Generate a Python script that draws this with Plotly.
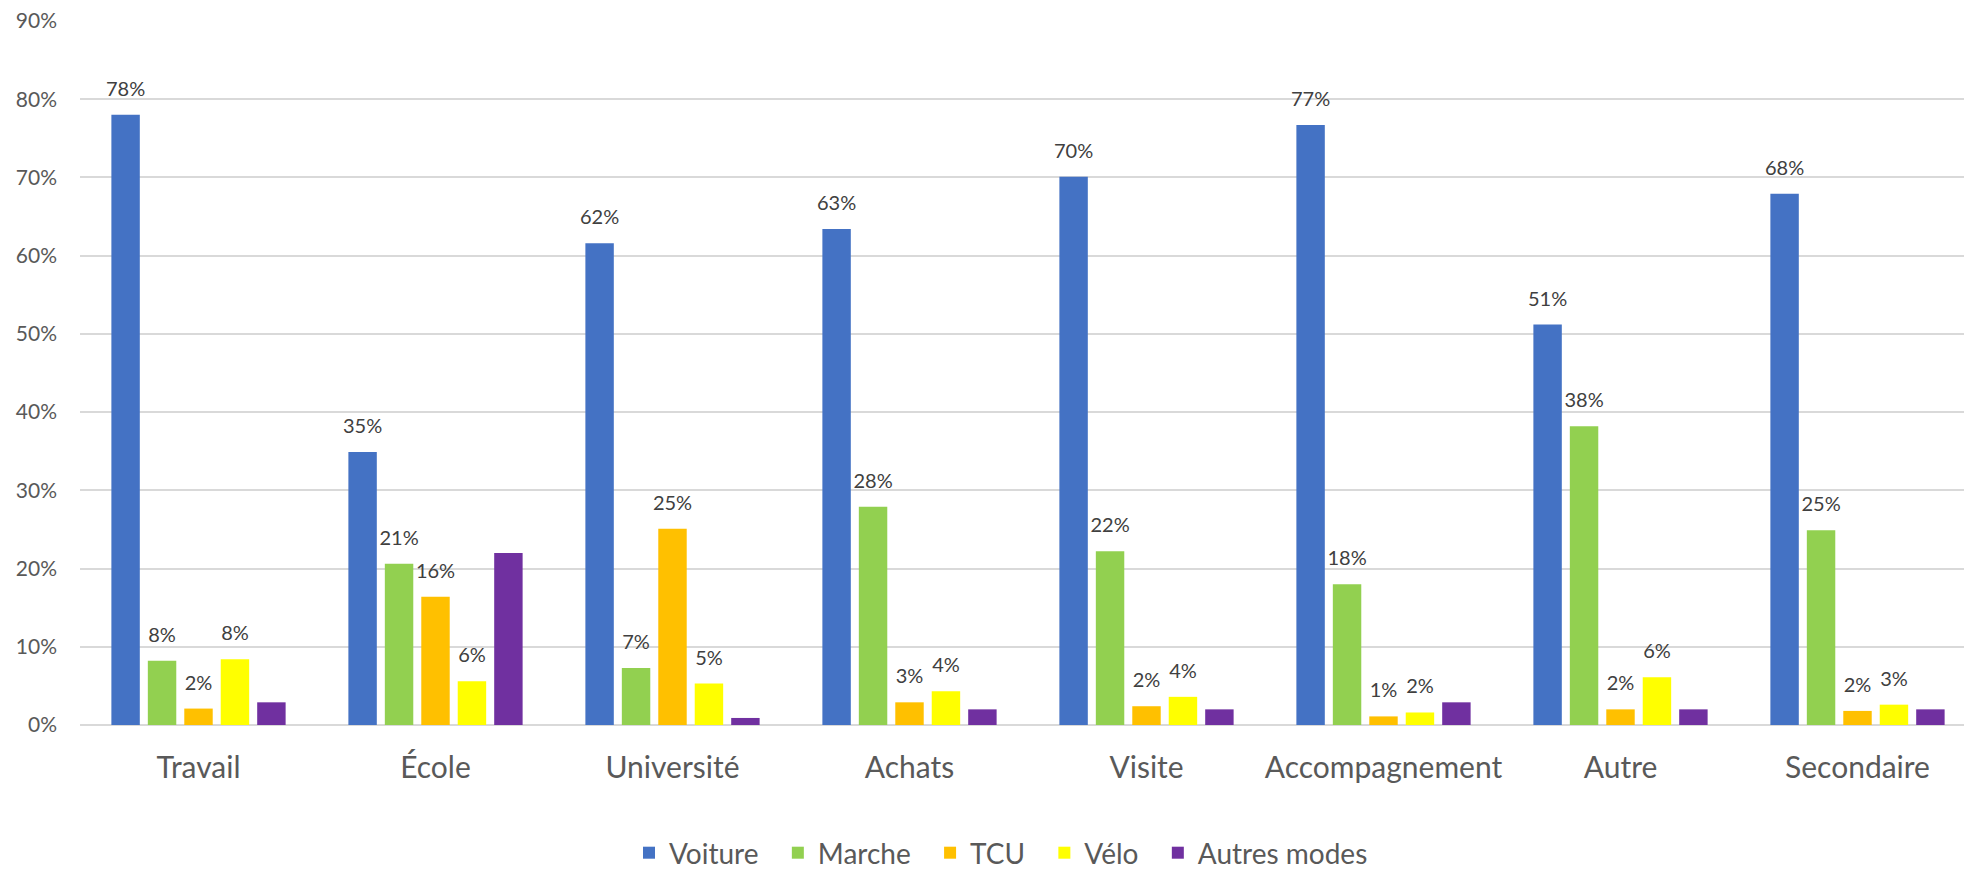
import plotly.graph_objects as go

categories = ["Travail", "École", "Université", "Achats", "Visite", "Accompagnement", "Autre", "Secondaire"]
voiture = [78.0, 34.9, 61.6, 63.4, 70.1, 76.7, 51.2, 67.9]
marche = [8.2, 20.6, 7.3, 27.9, 22.2, 18.0, 38.2, 24.9]
tcu = [2.1, 16.4, 25.1, 2.9, 2.4, 1.1, 2.0, 1.8]
velo = [8.4, 5.6, 5.3, 4.3, 3.6, 1.6, 6.1, 2.6]
autres = [2.9, 22.0, 0.9, 2.0, 2.0, 2.9, 2.0, 2.0]

series = [
    ("Voiture", voiture, "#4472C4", True),
    ("Marche", marche, "#92D050", True),
    ("TCU", tcu, "#FFC000", True),
    ("Vélo", velo, "#FFFF00", True),
    ("Autres modes", autres, "#7030A0", False),
]

FONT = "Lato"
PAD = "\u00a0\u00a0"
fig = go.Figure()

for name, vals, color, lab in series:
    fig.add_trace(go.Bar(
        name=name + PAD, x=categories, y=vals,
        marker=dict(color=color, line=dict(width=0)),
        hoverinfo="skip",
    ))

# transparent copies on an overlay axis, used only to carry the value labels
for name, vals, color, lab in series:
    fig.add_trace(go.Bar(
        name=name, x=categories, y=vals, yaxis="y2",
        marker=dict(color="rgba(0,0,0,0)", line=dict(width=0)),
        texttemplate="%{y:.0f}%" if lab else "",
        textposition="outside",
        constraintext="none",
        textfont=dict(family=FONT, size=20, color="#404040"),
        cliponaxis=False,
        showlegend=False, hoverinfo="skip",
    ))

W, H = 1964, 872
L, T = 80, 21
plot_h = 704
B = H - T - plot_h
plot_w = W - L
shift = 12 * 90 / plot_h

fig.update_layout(
    width=W, height=H,
    margin=dict(l=L, r=0, t=T, b=B, autoexpand=False),
    paper_bgcolor="white", plot_bgcolor="white",
    barmode="group", bargap=0.231, bargroupgap=0.22,
    font=dict(family=FONT, color="#595959"),
    xaxis=dict(
        type="category", automargin=False,
        range=[-0.5, plot_w / 237.0 - 0.5],
        showgrid=False, showline=False, zeroline=False,
        ticks="", tickfont=dict(family=FONT, size=30, color="#595959"),
        ticklabelstandoff=22,
    ),
    yaxis=dict(
        range=[0, 90], dtick=10, ticksuffix="%", automargin=False,
        showgrid=True, gridcolor="#d9d9d9", gridwidth=2,
        zeroline=True, zerolinecolor="#d9d9d9", zerolinewidth=2,
        showline=False, ticks="",
        tickfont=dict(family=FONT, size=21, color="#595959"),
        ticklabelstandoff=22,
    ),
    yaxis2=dict(
        overlaying="y", range=[-shift, 90 - shift], visible=False,
        showgrid=False, zeroline=False, automargin=False,
    ),
    legend=dict(
        orientation="h", x=(1008 - 80) / plot_w, xanchor="center",
        y=-(853 - 725) / plot_h, yanchor="middle",
        font=dict(family=FONT, size=28, color="#595959"),
        itemclick=False, itemdoubleclick=False,
    ),
    showlegend=True,
)

fig.write_html(
    "out.html",
    config={"displayModeBar": False},
    post_script="document.body.style.margin='0';document.body.style.overflow='hidden';",
)
